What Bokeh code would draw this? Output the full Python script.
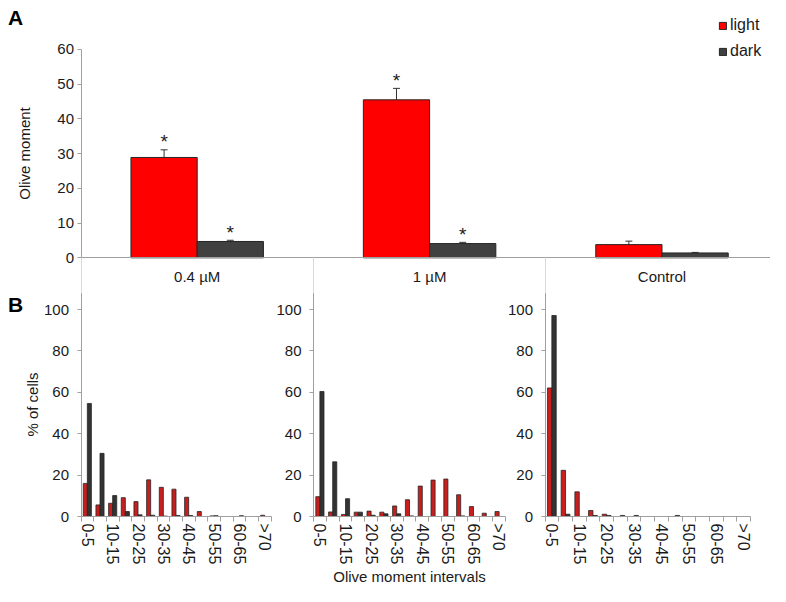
import math
from bokeh.plotting import figure
from bokeh.models import (ColumnDataSource, Range1d, FixedTicker, Whisker, TeeHead,
                          Label, Legend, LegendItem)
from bokeh.layouts import column, row
from bokeh.embed import file_html
from bokeh.resources import INLINE
from bokeh.core.properties import value

# ---------------- data ----------------
# Panel A
conditions = ["0.4 µM", "1 µM", "Control"]
light_mean = [28.9, 45.5, 3.8]
light_err = [2.2, 3.3, 1.0]
dark_mean = [4.7, 4.1, 1.4]
dark_err = [0.35, 0.35, 0.15]
light_sig = ["*", "*", ""]
dark_sig = ["*", "*", ""]

# Panel B
intervals = ["0-5", "5-10", "10-15", "15-20", "20-25", "25-30", "30-35", "35-40",
             "40-45", "45-50", "50-55", "55-60", "60-65", "65-70", ">70"]
light_04 = [16.0, 5.6, 6.4, 9.1, 7.2, 17.7, 14.1, 13.2, 9.3, 2.4, 0.3, 0, 0, 0, 0.6]
dark_04 = [54.6, 30.5, 10.1, 2.4, 0.8, 0.6, 0.2, 0.5, 0.5, 0, 0.4, 0, 0.4, 0, 0]
light_1 = [9.6, 2.2, 1.0, 2.1, 2.6, 2.1, 5.1, 8.1, 14.7, 17.6, 18.1, 10.5, 4.8, 1.6, 2.4]
dark_1 = [60.4, 26.4, 8.6, 2.1, 0.6, 1.3, 1.3, 0.3, 0, 0, 0, 0.3, 0, 0, 0]
light_ctrl = [62.1, 22.3, 11.9, 2.9, 1.1, 0, 0, 0, 0, 0, 0, 0, 0, 0, 0]
dark_ctrl = [97.1, 1.1, 0, 0.5, 0.5, 0.5, 0.5, 0, 0, 0.5, 0, 0, 0, 0, 0]

# ---------------- styles ----------------
FONT = "Liberation Sans"
RED_A = "#ff0000"
DARK_A = "#404040"
RED_B = "#c81e1e"
DARK_B = "#333333"
OUTLINE = "#262626"
AXIS = "#a0a0a0"
SEP = "#d9d9d9"
TXT = "#1a1a1a"


def ranges(width, height, x_px, x_val, x_ppu, y_px, y_val, y_ppu):
    """Ranges for a figure whose frame fills the whole canvas; x_px / y_px are the
    canvas pixel positions (from left / from top) where x_val / y_val should fall."""
    xs = x_val - x_px / x_ppu
    yt = y_val + y_px / y_ppu
    return Range1d(xs, xs + width / x_ppu), Range1d(yt - height / y_ppu, yt)


def bare_figure(width, height, xr, yr):
    p = figure(width=width, height=height, x_range=xr, y_range=yr,
               output_backend="svg", toolbar_location=None,
               min_border_left=0, min_border_right=0, min_border_top=0, min_border_bottom=0)
    p.outline_line_color = None
    p.grid.visible = False
    return p


# ---------------- panel A ----------------
WA, HA = 770, 292
xrA, yrA = ranges(WA, HA, 80.5, -0.5, 232.4, 257.3, 0, 3.472)
pA = bare_figure(WA, HA, xrA, yrA)

xc = list(range(len(conditions)))
off = 0.1425
srcA = ColumnDataSource(dict(
    xl=[v - off for v in xc], xd=[v + off for v in xc],
    light=light_mean, dark=dark_mean,
    lu=[m + e for m, e in zip(light_mean, light_err)],
    ll=[m - e for m, e in zip(light_mean, light_err)],
    du=[m + e for m, e in zip(dark_mean, dark_err)],
    dl=[m - e for m, e in zip(dark_mean, dark_err)],
    ls=light_sig, ds=dark_sig,
))
rl = pA.vbar(x="xl", top="light", width=2 * off, fill_color=RED_A, line_color=OUTLINE,
             line_width=1, source=srcA)
rd = pA.vbar(x="xd", top="dark", width=2 * off, fill_color=DARK_A, line_color=OUTLINE,
             line_width=1, source=srcA)
for base, up, lo in (("xl", "lu", "ll"), ("xd", "du", "dl")):
    w = Whisker(base=base, upper=up, lower=lo, source=srcA, line_color="#333333", line_width=1,
                upper_head=TeeHead(size=7, line_color="#333333", line_width=1),
                lower_head=TeeHead(size=7, line_color="#333333", line_width=1))
    pA.add_layout(w)
for xcol, ycol, tcol in (("xl", "lu", "ls"), ("xd", "du", "ds")):
    pA.text(x=xcol, y=ycol, text=tcol, source=srcA, y_offset=-8, text_align="center",
            text_baseline="alphabetic", text_font=value(FONT), text_font_size="19px",
            text_color=TXT)

ya = pA.yaxis[0]
ya.fixed_location = -0.5
ya.bounds = (0, 60)
ya.ticker = FixedTicker(ticks=[0, 10, 20, 30, 40, 50, 60], minor_ticks=[])
ya.major_tick_out = 4
ya.major_tick_in = 0
ya.minor_tick_out = 0
ya.axis_line_color = AXIS
ya.major_tick_line_color = AXIS
ya.major_label_text_font = FONT
ya.major_label_text_font_size = "15px"
ya.major_label_text_color = TXT
ya.major_label_standoff = 3
ya.axis_label = "Olive moment"
ya.axis_label_text_font = FONT
ya.axis_label_text_font_size = "15px"
ya.axis_label_text_font_style = "normal"
ya.axis_label_text_color = TXT
ya.axis_label_standoff = 22

xa = pA.xaxis[0]
xa.fixed_location = 0
xa.bounds = (-0.5, xrA.end)
xa.ticker = FixedTicker(ticks=xc, minor_ticks=[-0.5, 0.5, 1.5])
xa.major_label_overrides = {i: c for i, c in enumerate(conditions)}
xa.major_tick_out = 0
xa.major_tick_in = 0
xa.minor_tick_out = 36
xa.minor_tick_in = 0
xa.minor_tick_line_color = SEP
xa.axis_line_color = AXIS
xa.major_label_text_font = FONT
xa.major_label_text_font_size = "15px"
xa.major_label_text_color = TXT
xa.major_label_standoff = -26

legend = Legend(items=[LegendItem(label="light", renderers=[rl]),
                       LegendItem(label="dark", renderers=[rd])],
                location=(718, HA - 61), glyph_width=9, glyph_height=9, label_standoff=3,
                spacing=6, padding=0, margin=0, border_line_color=None,
                background_fill_alpha=0, label_text_font=FONT, label_text_font_size="16px",
                label_height=20, label_text_color=TXT)
pA.add_layout(legend)

pA.add_layout(Label(x=15, y=HA - 17, x_units="screen", y_units="screen", text="A",
                    text_font=FONT, text_font_size="21px", text_font_style="bold",
                    text_align="center", text_baseline="middle", text_color="#000000"))

# ---------------- panel B ----------------
HB = 294
TOP_B = 292          # canvas top of the panel-B row, in picture pixels
ZERO_B = 516 - TOP_B  # where 0 % falls
PPU_B = 2.07          # pixels per percent


def hist_fig(light, dark, width, axis_px, cat_px, ylabel=None):
    xr, yr = ranges(width, HB, axis_px, -0.5, cat_px, ZERO_B, 0, PPU_B)
    p = bare_figure(width, HB, xr, yr)
    xs = list(range(len(intervals)))
    src = ColumnDataSource(dict(xl=[v - 0.16 for v in xs], xd=[v + 0.16 for v in xs],
                                light=light, dark=dark))
    p.vbar(x="xl", top="light", width=0.32, fill_color=RED_B, line_color=OUTLINE,
           line_width=0.8, source=src)
    p.vbar(x="xd", top="dark", width=0.32, fill_color=DARK_B, line_color=OUTLINE,
           line_width=0.8, source=src)

    y = p.yaxis[0]
    y.fixed_location = -0.5
    y.bounds = (0, yr.end)
    y.ticker = FixedTicker(ticks=[0, 20, 40, 60, 80, 100], minor_ticks=[])
    y.major_tick_out = 4
    y.major_tick_in = 0
    y.axis_line_color = AXIS
    y.major_tick_line_color = AXIS
    y.major_label_text_font = FONT
    y.major_label_text_font_size = "15px"
    y.major_label_text_color = TXT
    y.major_label_standoff = 8
    if ylabel:
        y.axis_label = ylabel
        y.axis_label_text_font = FONT
        y.axis_label_text_font_size = "15px"
        y.axis_label_text_font_style = "normal"
        y.axis_label_text_color = TXT
        y.axis_label_standoff = 0

    x = p.xaxis[0]
    x.fixed_location = 0
    x.bounds = (-0.5, 14.5)
    x.ticker = FixedTicker(ticks=xs[::2], minor_ticks=[v - 0.5 for v in xs] + [14.5])
    x.major_label_overrides = {i: intervals[i] for i in xs[::2]}
    x.major_label_orientation = "vertical"
    x.major_tick_out = 0
    x.major_tick_in = 0
    x.minor_tick_out = 5
    x.minor_tick_in = 0
    x.minor_tick_line_color = AXIS
    x.axis_line_color = AXIS
    x.major_label_text_font = FONT
    x.major_label_text_font_size = "16px"
    x.major_label_text_color = TXT
    x.major_label_standoff = 2
    return p


p1 = hist_fig(light_04, dark_04, 274, 80.5, 12.667, ylabel="% of cells")
p2 = hist_fig(light_1, dark_1, 232, 313 - 274, 12.8)
p3 = hist_fig(light_ctrl, dark_ctrl, 264, 544.5 - 506, 13.7)

p1.add_layout(Label(x=15, y=HB - 12, x_units="screen", y_units="screen", text="B",
                    text_font=FONT, text_font_size="21px", text_font_style="bold",
                    text_align="center", text_baseline="middle", text_color="#000000"))
p2.add_layout(Label(x=409 - 274, y=HB - (576 - TOP_B), x_units="screen", y_units="screen",
                    text="Olive moment intervals", text_font=FONT, text_font_size="15px",
                    text_align="center", text_baseline="middle", text_color=TXT))

layout = column(pA, row(p1, p2, p3, spacing=0), spacing=0)

with open("out.html", "w") as f:
    f.write(file_html(layout, INLINE))
